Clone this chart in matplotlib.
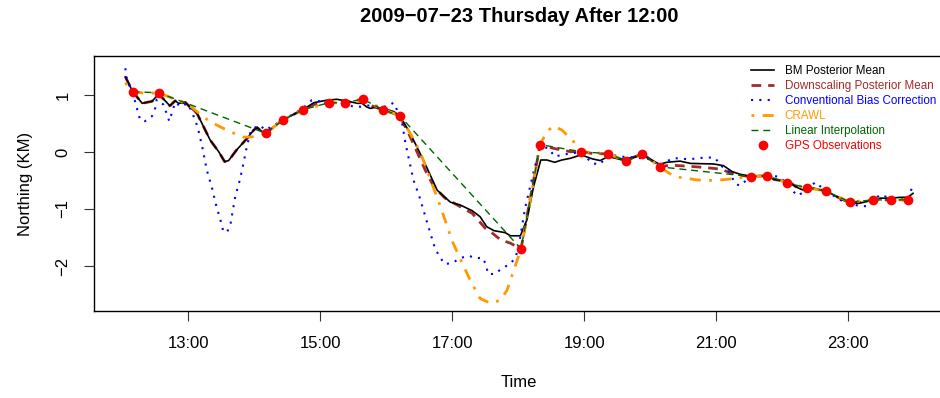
import matplotlib.pyplot as plt

plt.rcParams['font.family'] = ['Liberation Sans', 'DejaVu Sans']

# GPS observations (hours after midnight, northing in km)
gps_t = [12.156, 12.55, 14.17, 14.43, 14.73, 15.13, 15.38, 15.64, 15.95, 16.20,
         18.04, 18.33, 18.95, 19.36, 19.63, 19.88, 20.14, 21.52, 21.77, 22.07,
         22.37, 22.66, 23.02, 23.38, 23.65, 23.90]
gps_y = [1.058, 1.04, 0.33, 0.56, 0.74, 0.865, 0.865, 0.93, 0.74, 0.64,
         -1.70, 0.13, 0.006, -0.03, -0.16, -0.03, -0.26, -0.43, -0.415, -0.54,
         -0.63, -0.685, -0.877, -0.84, -0.84, -0.84]

# BM posterior mean
bm_t = [12.045, 12.156, 12.30, 12.45, 12.55, 12.72, 12.80, 12.85, 12.955, 13.03,
        13.13, 13.33, 13.46, 13.55, 13.61, 13.73, 13.89, 13.99, 14.04, 14.12,
        14.17, 14.43, 14.73, 14.90, 15.10, 15.25, 15.40, 15.56, 15.63, 15.71,
        15.76, 15.83, 15.95, 16.11, 16.20, 16.36, 16.56, 16.77, 16.97, 17.12,
        17.30, 17.42, 17.52, 17.63, 17.80, 17.88, 18.03, 18.13, 18.23, 18.34,
        18.43, 18.55, 18.66, 18.79, 18.95, 19.12, 19.24, 19.36, 19.55, 19.75,
        19.88, 20.02, 20.14, 20.25, 20.45, 20.61, 20.96, 21.11, 21.24, 21.36,
        21.52, 21.77, 21.87, 22.02, 22.12, 22.20, 22.32, 22.37, 22.50, 22.66,
        22.78, 22.90, 23.02, 23.16, 23.28, 23.48, 23.64, 23.79, 23.90, 23.98]
bm_y = [1.32, 1.06, 0.855, 0.89, 1.02, 0.81, 0.90, 0.855, 0.87, 0.78,
        0.68, 0.21, 0.005, -0.17, -0.15, 0.035, 0.24, 0.385, 0.43, 0.356,
        0.33, 0.56, 0.74, 0.865, 0.91, 0.925, 0.895, 0.855, 0.855, 0.785,
        0.765, 0.785, 0.765, 0.71, 0.64, 0.33, -0.14, -0.67, -0.88, -0.93,
        -1.03, -1.135, -1.31, -1.38, -1.415, -1.47, -1.47, -1.19, -0.61, -0.14,
        -0.14, -0.18, -0.14, -0.11, -0.05, -0.12, -0.15, -0.08, -0.13, -0.095,
        -0.05, -0.14, -0.215, -0.18, -0.16, -0.20, -0.21, -0.24, -0.345, -0.39,
        -0.43, -0.415, -0.48, -0.51, -0.54, -0.61, -0.67, -0.62, -0.64, -0.685,
        -0.755, -0.83, -0.90, -0.90, -0.87, -0.81, -0.81, -0.795, -0.795, -0.725]

# Downscaling posterior mean
ds_t = [12.045, 12.156, 12.30, 12.45, 12.55, 12.72, 12.80, 12.85, 12.955, 13.03,
        13.13, 13.33, 13.46, 13.55, 13.61, 13.73, 13.89, 13.99, 14.04, 14.12,
        14.17, 14.43, 14.73, 14.90, 15.13, 15.38, 15.64, 15.80, 15.95, 16.20,
        16.36, 16.59, 16.72, 16.89, 17.12, 17.30, 17.50, 17.58, 17.73, 17.88,
        18.04, 18.33, 18.53, 18.79, 18.95, 19.15, 19.36, 19.50, 19.63, 19.75,
        19.88, 20.02, 20.14, 20.30, 20.51, 20.81, 21.06, 21.24, 21.36, 21.52,
        21.77, 21.87, 22.02, 22.12, 22.20, 22.37, 22.50, 22.66, 22.78, 22.90,
        23.02, 23.16, 23.38, 23.65, 23.90, 23.98]
ds_y = [1.32, 1.06, 0.855, 0.89, 1.02, 0.81, 0.90, 0.855, 0.87, 0.78,
        0.68, 0.21, 0.005, -0.17, -0.15, 0.035, 0.24, 0.385, 0.43, 0.356,
        0.33, 0.56, 0.74, 0.83, 0.865, 0.865, 0.93, 0.80, 0.74, 0.64,
        0.27, -0.32, -0.61, -0.81, -0.96, -1.075, -1.34, -1.40, -1.54, -1.60,
        -1.70, 0.13, 0.065, 0.005, 0.006, -0.03, -0.03, -0.10, -0.16, -0.09,
        -0.03, -0.15, -0.26, -0.23, -0.245, -0.27, -0.30, -0.375, -0.41, -0.43,
        -0.415, -0.48, -0.51, -0.54, -0.60, -0.63, -0.64, -0.685, -0.755, -0.83,
        -0.877, -0.89, -0.84, -0.84, -0.84, -0.80]

# Conventional bias correction
cbc_t = [12.045, 12.06, 12.20, 12.23, 12.27, 12.34, 12.45, 12.50, 12.52, 12.62,
         12.67, 12.71, 12.75, 12.80, 12.89, 12.98, 13.05, 13.10, 13.14, 13.21,
         13.28, 13.36, 13.42, 13.50, 13.53, 13.59, 13.64, 13.71, 13.78, 13.84,
         13.89, 13.95, 14.03, 14.08, 14.17, 14.43, 14.73, 14.87, 15.13, 15.38,
         15.50, 15.61, 15.75, 16.00, 16.11, 16.16, 16.24, 16.29, 16.35, 16.41,
         16.50, 16.58, 16.66, 16.74, 16.81, 16.88, 17.00, 17.11, 17.25, 17.35,
         17.46, 17.51, 17.54, 17.65, 17.75, 17.87, 17.95, 18.00, 18.10, 18.22,
         18.33, 18.46, 18.55, 18.66, 18.79, 18.95, 19.12, 19.24, 19.36, 19.55,
         19.75, 20.02, 20.14, 20.33, 20.45, 20.58, 20.71, 20.85, 20.98, 21.06,
         21.19, 21.29, 21.36, 21.52, 21.77, 21.94, 22.07, 22.22, 22.32, 22.50,
         22.66, 22.90, 23.17, 23.28, 23.48, 23.61, 23.90, 23.96]
cbc_y = [1.47, 1.32, 0.865, 0.72, 0.56, 0.54, 0.63, 0.78, 0.92, 0.835,
         0.68, 0.54, 0.69, 0.87, 0.795, 0.855, 0.72, 0.56, 0.44, 0.09,
         -0.32, -0.64, -0.93, -1.25, -1.40, -1.40, -1.25, -0.78, -0.49, -0.17,
         0.12, 0.385, 0.44, 0.47, 0.385, 0.56, 0.76, 0.91, 0.87, 0.85,
         0.795, 0.795, 0.82, 0.795, 0.865, 0.74, 0.50, 0.15, -0.17, -0.49,
         -0.78, -1.09, -1.40, -1.70, -1.84, -1.965, -1.95, -1.865, -1.82, -1.865,
         -1.855, -1.98, -2.14, -2.14, -2.04, -1.97, -1.865, -1.69, -1.0, -0.4,
         0.10, 0.065, -0.08, -0.05, -0.025, 0.0, -0.20, -0.215, -0.04, -0.08,
         -0.095, -0.13, -0.25, -0.11, -0.11, -0.13, -0.11, -0.095, -0.10, -0.23,
         -0.345, -0.56, -0.59, -0.43, -0.415, -0.43, -0.55, -0.765, -0.71, -0.53,
         -0.685, -0.855, -0.95, -0.95, -0.75, -0.80, -0.84, -0.64]

# CRAWL
crawl_t = [12.045, 12.156, 12.35, 12.55, 12.83, 12.98, 13.16, 13.33, 13.53, 13.69,
           13.84, 14.04, 14.17, 14.43, 14.73, 15.13, 15.38, 15.64, 15.95, 16.20,
           16.36, 16.52, 16.67, 16.82, 17.00, 17.15, 17.27, 17.42, 17.58, 17.73,
           17.83, 17.95, 18.04, 18.18, 18.33, 18.43, 18.53, 18.66, 18.84, 18.95,
           19.36, 19.63, 19.88, 20.14, 20.25, 20.36, 20.48, 20.71, 20.96, 21.16,
           21.31, 21.52, 21.77, 22.07, 22.37, 22.66, 23.02, 23.38, 23.65, 23.90,
           23.98]
crawl_y = [1.215, 1.06, 1.03, 1.04, 0.91, 0.855, 0.68, 0.53, 0.415, 0.33,
           0.26, 0.27, 0.33, 0.56, 0.74, 0.86, 0.87, 0.90, 0.75, 0.64,
           0.33, -0.02, -0.49, -0.96, -1.57, -1.95, -2.25, -2.57, -2.655, -2.60,
           -2.42, -2.01, -1.70, -0.84, 0.13, 0.355, 0.456, 0.386, 0.18, 0.006,
           -0.03, -0.16, -0.03, -0.26, -0.345, -0.43, -0.45, -0.49, -0.50, -0.48,
           -0.46, -0.43, -0.415, -0.54, -0.63, -0.685, -0.877, -0.84, -0.84, -0.84,
           -0.89]

tick_hours = [13, 15, 17, 19, 21, 23]
tick_labels = ['13:00', '15:00', '17:00', '19:00', '21:00', '23:00']
ytick_vals = [-2, -1, 0, 1]

fig = plt.figure(figsize=(9.4, 3.98), dpi=100)
ax = fig.add_axes([0.1, 0.2186, 0.9043, 0.6407])

ax.plot(ds_t, ds_y, color='#A52A2A', lw=2.0, ls=(0, (3.5, 2.5)),
        label='Downscaling Posterior Mean', zorder=2)
ax.plot(bm_t, bm_y, color='black', lw=1.2, label='BM Posterior Mean', zorder=3)
ax.plot(cbc_t, cbc_y, color='blue', lw=1.5, ls=(0, (1, 3)),
        label='Conventional Bias Correction', zorder=3)
ax.plot(crawl_t, crawl_y, color='#FF9900', lw=2.0, ls=(0, (1, 3, 4, 3)),
        label='CRAWL', zorder=4)
ax.plot(gps_t, gps_y, color='#006400', lw=1.0, ls=(0, (5, 3.5)),
        label='Linear Interpolation', zorder=4)
ax.plot(gps_t, gps_y, 'o', color='red', ms=7, mew=0, label='GPS Observations', zorder=5)

ax.set_xlim(11.57, 24.45)
ax.set_ylim(-2.79, 1.685)
ax.set_xticks(tick_hours)
ax.set_xticklabels(tick_labels)
ax.set_yticks(ytick_vals)
ax.tick_params(axis='both', length=7, width=0.8, labelsize=12, color='#333333')
ax.tick_params(axis='x', pad=11)
ax.tick_params(axis='y', pad=10, labelrotation=90)
for lab in ax.get_yticklabels():
    lab.set_va('center')
for sp in ax.spines.values():
    sp.set_linewidth(1.0)

ax.set_xlabel('Time', fontsize=12, labelpad=17)
ax.set_ylabel('Northing (KM)', fontsize=12)
ax.yaxis.set_label_coords(-0.072, 0.5)

fig.text(0.552, 0.9447, '2009\u221207\u221223 Thursday After 12:00',
         ha='center', va='baseline', fontsize=14.5, fontweight='bold')

handles, labels = ax.get_legend_handles_labels()
order = [1, 0, 2, 3, 4, 5]
leg = ax.legend([handles[i] for i in order], [labels[i] for i in order],
                loc='upper left', bbox_to_anchor=(751.0 / 940, 0.8374),
                bbox_transform=fig.transFigure, frameon=False, fontsize=8.4,
                handlelength=2.0, handletextpad=0.9, labelspacing=0.26,
                borderpad=0, borderaxespad=0,
                labelcolor=['black', '#A52A2A', 'blue', '#FF9900', '#006400', 'red'])

fig.savefig('out.png', dpi=100)
